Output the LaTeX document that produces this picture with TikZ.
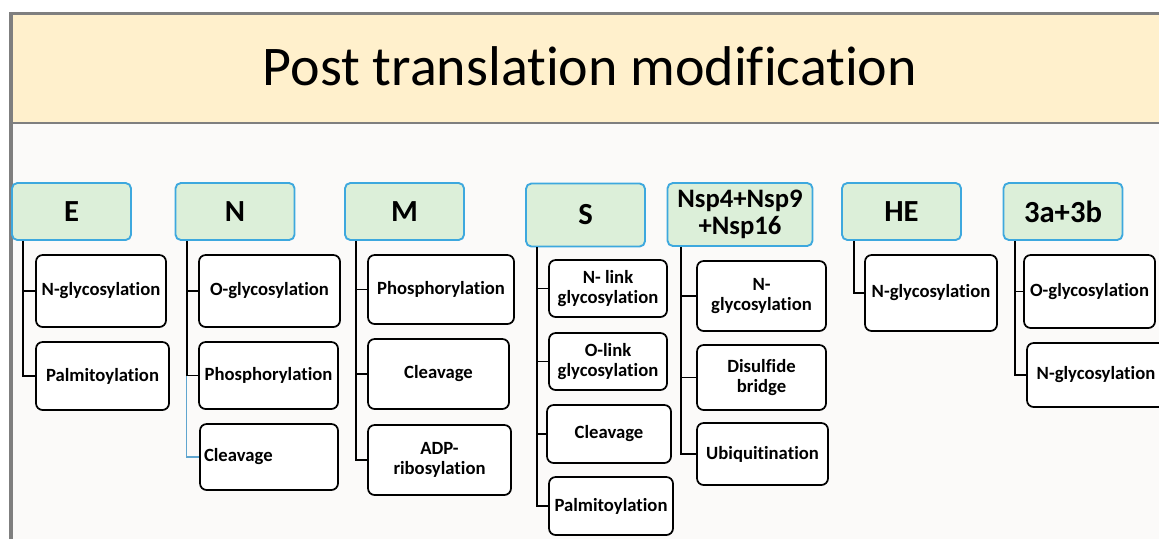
\documentclass[tikz,border=0pt]{standalone}
\usepackage{fontspec}
\setmainfont{Carlito}[Ligatures=NoCommon]
\usetikzlibrary{positioning}

\definecolor{bandyellow}{HTML}{FFF0CC}
\definecolor{headgreen}{HTML}{DCEFD9}
\definecolor{headblue}{HTML}{3DA8DE}
\definecolor{framegray}{HTML}{7F7F7F}
\definecolor{thinblue}{HTML}{5FA5CF}
\definecolor{paper}{HTML}{FBFAF9}

\tikzset{
	head/.style={draw=headblue, fill=headgreen, rounded corners=4pt, line width=1.4pt, inner sep=0pt,
		font=\bfseries\fontsize{23}{24}\selectfont, align=center, minimum width=89.25pt, minimum height=42.75pt},
	mod/.style={draw=black, fill=white, rounded corners=5pt, line width=1.3pt, inner sep=0pt,
		font=\bfseries\fontsize{14}{15}\selectfont, align=center},
	boxsize/.style 2 args={minimum width=#1*0.75pt, minimum height=#2*0.75pt},
	link/.style={line width=1.4pt},
	thinlink/.style={line width=0.8pt, draw=thinblue}
}

\begin{document}
\begin{tikzpicture}[x=0.75pt, y=-0.75pt]
	\useasboundingbox (0,0) rectangle (1159,539);
	% frame and title band
	\fill[paper] (13,124) rectangle (1159,539);
	\fill[bandyellow] (13,15) rectangle (1159,122);
	\draw[framegray, line width=2.8pt] (11,539) -- (11,13.5) -- (1159,13.5);
	\draw[framegray, line width=2.2pt] (12,123) -- (1159,123);
	\node[anchor=base, font=\fontsize{42}{44}\selectfont] (title) at (590,85) {Post translation modification};

	% proteins
	\node[head] (E) at (71.5,211.5) {E};
	\node[head] (N) at (235,211.5) {N};
	\node[head] (M) at (404.5,211.5) {M};
	\node[head, minimum height=47.25pt] (S) at (585.5,215) {S};
	\node[head, minimum width=108.75pt, minimum height=47.25pt, font=\bfseries\fontsize{20}{20}\selectfont] (Nsp) at (740,214.5) {Nsp4+Nsp9\\+Nsp16};
	\node[head] (HE) at (901.5,211.5) {HE};
	\node[head] (ab) at (1063,211.5) {3a+3b};

	% modifications
	\node[mod, boxsize={130}{72}] (e1) at (101,291) {N-glycosylation};
	\node[mod, boxsize={133}{68}] (e2) at (102.5,376) {Palmitoylation};

	\node[mod, boxsize={141}{72}] (n1) at (269.5,291) {O-glycosylation};
	\node[mod, boxsize={139}{67}] (n2) at (268.5,375.5) {Phosphorylation};
	\node[mod, boxsize={138}{66}, align=left, text width=97.5pt] (n3) at (269,457) {Cleavage};

	\node[mod, boxsize={146}{69}] (m1) at (441,289.5) {Phosphorylation};
	\node[mod, boxsize={141}{70}] (m2) at (438.5,374) {Cleavage};
	\node[mod, boxsize={143}{70}] (m3) at (439.5,460) {ADP-\\ribosylation};

	\node[mod, boxsize={118}{57}] (s1) at (608,288.5) {N- link\\glycosylation};
	\node[mod, boxsize={118}{57}] (s2) at (608,361.5) {O-link\\glycosylation};
	\node[mod, boxsize={124}{58}] (s3) at (609,434) {Cleavage};
	\node[mod, boxsize={124}{58}] (s4) at (611,506) {Palmitoylation};

	\node[mod, boxsize={129}{70}] (p1) at (761.5,296) {N-\\glycosylation};
	\node[mod, boxsize={129}{65}] (p2) at (761.5,377.5) {Disulfide\\bridge};
	\node[mod, boxsize={131}{62}] (p3) at (762.5,454) {Ubiquitination};

	\node[mod, boxsize={132}{76}] (h1) at (931,293) {N-glycosylation};

	\node[mod, boxsize={131}{73}] (a1) at (1089.5,291.5) {O-glycosylation};
	\node[mod, boxsize={138}{64}] (a2) at (1096,375) {N-glycosylation};

	% connectors
	\draw[link] ([xshift=9pt]E.south west) |- (e1.west)
		([xshift=9pt]E.south west) |- (e2.west);
	\draw[link] ([xshift=9pt]N.south west) |- (n1.west)
		([xshift=9pt]N.south west) |- (n2.west);
	\draw[thinlink] ([xshift=9pt]N.south west |- n2.west) |- (n3.west);
	\draw[link] ([xshift=9pt]M.south west) |- (m1.west)
		([xshift=9pt]M.south west) |- (m2.west)
		([xshift=9pt]M.south west) |- (m3.west);
	\draw[link] ([xshift=9pt]S.south west) |- (s1.west)
		([xshift=9pt]S.south west) |- (s2.west)
		([xshift=9pt]S.south west) |- (s3.west)
		([xshift=9pt]S.south west) |- (s4.west);
	\draw[link] ([xshift=11pt]Nsp.south west) |- (p1.west)
		([xshift=11pt]Nsp.south west) |- (p2.west)
		([xshift=11pt]Nsp.south west) |- (p3.west);
	\draw[link] ([xshift=9.5pt]HE.south west) |- (h1.west);
	\draw[link] ([xshift=9pt]ab.south west) |- (a1.west)
		([xshift=9pt]ab.south west) |- (a2.west);
\end{tikzpicture}
\end{document}
